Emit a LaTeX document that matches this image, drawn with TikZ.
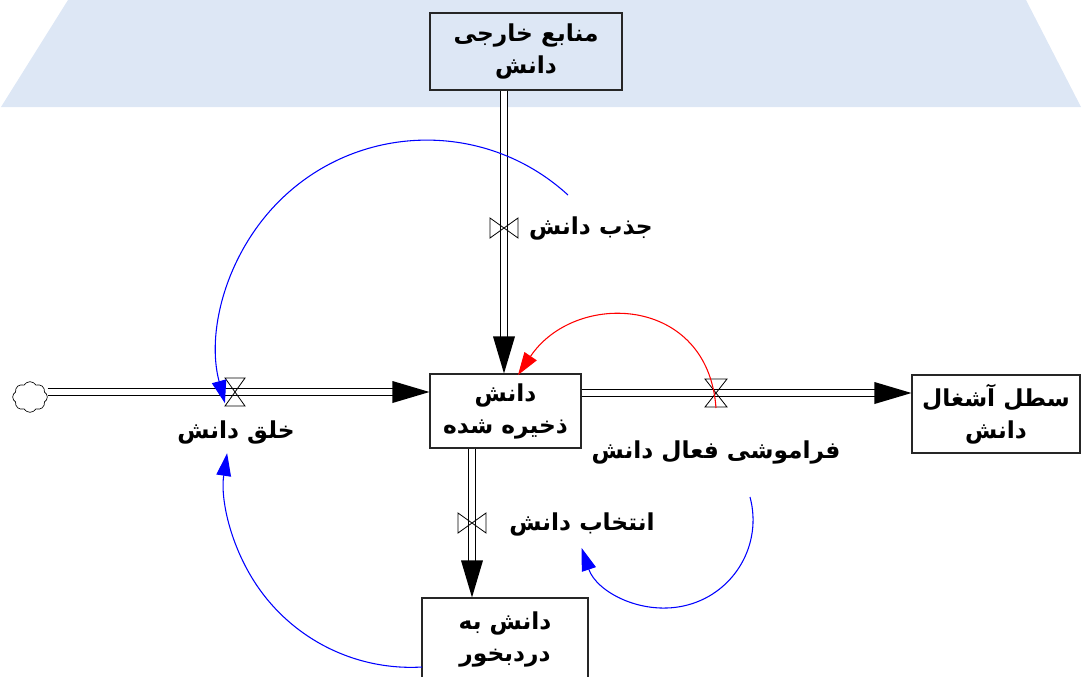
\documentclass[tikz,border=0pt]{standalone}
\usepackage{fontspec}
\newfontfamily\fa[Script=Arabic]{DejaVu Sans}
\TeXXeTstate=1
\usetikzlibrary{shapes.symbols,arrows.meta,calc}
\definecolor{bgblue}{RGB}{221,231,245}
\begin{document}
\begin{tikzpicture}[x=0.75pt,y=-0.75pt,
  txt/.style={font=\fa\bfseries\fontsize{17.5pt}{24pt}\selectfont},
  box/.style={txt,draw=black!85,line width=0.8pt,inner sep=0pt,align=center},
  lbl/.style={txt,inner sep=0pt},
  pipe/.style={draw=black,line width=0.9pt,double=white,double distance=4.2pt,shorten >=26pt},
  infl/.style={line width=0.8pt,-{Triangle[length=17pt,width=11pt]}},
  valve/.style={draw=black,line width=0.6pt}]
\useasboundingbox (0,0) rectangle (1082,676);
% background
\fill[bgblue] (68,0) -- (1026,0) -- (1081,107) -- (1,107) -- cycle;
% stocks
\node[box,minimum width=144pt,minimum height=57.75pt] (top) at (526,51.5)
  {\beginR منابع خارجی\endR\\\beginR دانش\endR};
\node[box,fill=white,minimum width=113.25pt,minimum height=55.5pt] (stock) at (505.5,411)
  {\beginR دانش\endR\\\beginR ذخیره شده\endR};
\node[box,fill=white,minimum width=126pt,minimum height=58.5pt] (trash) at (996,414)
  {\beginR سطل آشغال\endR\\\beginR دانش\endR};
\node[box,fill=white,minimum width=124.5pt,minimum height=61.5pt] (useful) at (505,639)
  {\beginR دانش به\endR\\\beginR دردبخور\endR};
\node[cloud,draw,cloud puffs=8,cloud puff arc=120,aspect=1.2,minimum width=26pt,
  minimum height=23pt,inner sep=0pt,line width=0.5pt] (cloud) at (30,397) {};
% valve centres
\coordinate (vL) at (235,392);
\coordinate (vR) at (716,393);
\coordinate (vT) at (504,228);
\coordinate (vB) at (472,523);
% flows
\draw[pipe] (cloud.east |- vL) -- (stock.west |- vL);
\fill (stock.west |- vL) -- ++(-37,-11) -- ++(0,22) -- cycle;
\draw[pipe] (top.south -| vT) -- (stock.north -| vT);
\fill (stock.north -| vT) -- ++(-11,-37) -- ++(22,0) -- cycle;
\draw[pipe] (stock.east |- vR) -- (trash.west |- vR);
\fill (trash.west |- vR) -- ++(-37,-11) -- ++(0,22) -- cycle;
\draw[pipe] (stock.south -| vB) -- (useful.north -| vB);
\fill (useful.north -| vB) -- ++(-11,-37) -- ++(22,0) -- cycle;
% valves
\draw[valve,shift={(vL)}] (-10,-14) -- (10,-14) -- (-10,14) -- (10,14) -- cycle;
\draw[valve,shift={(vR)}] (-11,-14) -- (11,-14) -- (-11,14) -- (11,14) -- cycle;
\draw[valve,shift={(vT)}] (-14,-10) -- (-14,10) -- (14,-10) -- (14,10) -- cycle;
\draw[valve,shift={(vB)}] (-14,-10) -- (-14,10) -- (14,-10) -- (14,10) -- cycle;
% labels
\node[lbl] (lJazb) at (591,228) {\beginR جذب دانش\endR};
\node[lbl] (lKhalq) at (236,432) {\beginR خلق دانش\endR};
\node[lbl] (lForget) at (716,452) {\beginR فراموشی فعال دانش\endR};
\node[lbl] (lSelect) at (582,524) {\beginR انتخاب دانش\endR};
% influence arcs
\coordinate (s1) at (568,195);
\coordinate (s2) at (422,667);
\coordinate (s3) at (750,497);
\coordinate (r0) at (716,408);
\coordinate (rt) at (518,375);
\draw[infl,blue] (s1) arc[start angle=-47.5,end angle=-195,radius=209];
\draw[infl,blue] (s2) arc[start angle=86.6,end angle=188.7,radius=186];
\draw[infl,blue] (s3) arc[start angle=-15.1,end angle=161.4,radius=88];
\draw[infl,red] (r0) .. controls (708,295) and (575,290) .. (rt);
\end{tikzpicture}
\end{document}
